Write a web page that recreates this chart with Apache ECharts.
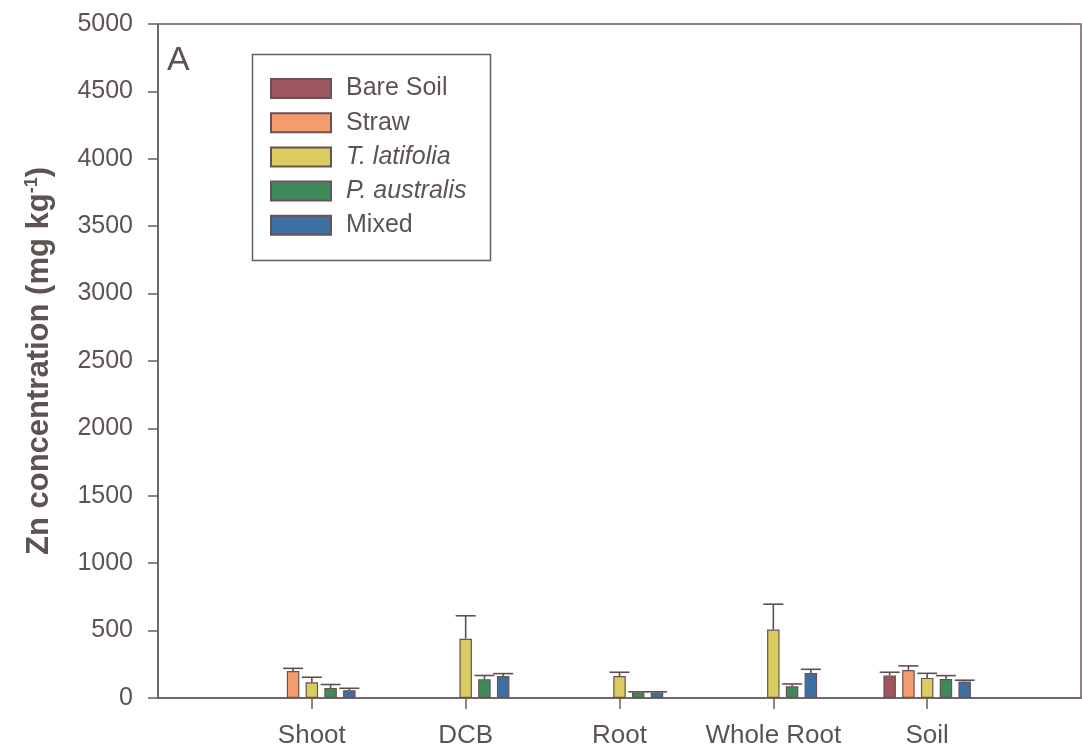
<!DOCTYPE html>
<html>
<head>
<meta charset="utf-8">
<script src="https://cdn.jsdelivr.net/npm/echarts@6/dist/echarts.min.js"></script>
<style>html,body{margin:0;padding:0;background:#fff;}#c{width:1082px;height:751px;}</style>
</head>
<body>
<div id="c"></div>
<script>
// ---- data ----
const categories = ['', 'Shoot', 'DCB', 'Root', 'Whole Root', 'Soil', ''];
const seriesNames = ['Bare Soil', 'Straw', 'T. latifolia', 'P. australis', 'Mixed'];
const bareSoil    = [null, null, null, null, null, 166, null];
const straw       = [null, 200, null, null, null, 208, null];
const tLatifolia  = [null, 117, 440, 163, 508, 149, null];
const pAustralis  = [null, 75, 140, 40, 87, 141, null];
const mixed       = [null, 57, 163, 40, 186, 122, null];
const bareSoilErr   = [null, null, null, null, null, 25, null];
const strawErr      = [null, 20, null, null, null, 30, null];
const tLatifoliaErr = [null, 37, 170, 28, 188, 34, null];
const pAustralisErr = [null, 25, 27, 6, 17, 25, null];
const mixedErr      = [null, 15, 18, 6, 27, 10, null];
const yTicks = [0, 500, 1000, 1500, 2000, 2500, 3000, 3500, 4000, 4500, 5000];

// ---- style ----
const colors = ['#9c5660', '#f49c6e', '#d9cc60', '#3f8a5d', '#3d6fa3'];
const italicNames = ['T. latifolia', 'P. australis'];
const barWidth = 12.5, barGapRatio = 0.5;
const step = barWidth * (1 + barGapRatio);
const axisColor = '#6a5c5c';
const textColor = '#5d5353';
const font = 'Liberation Sans, Arial, Helvetica, sans-serif';

const means = [bareSoil, straw, tLatifolia, pAustralis, mixed];
const errs = [bareSoilErr, strawErr, tLatifoliaErr, pAustralisErr, mixedErr];

const series = [];
means.forEach((m, i) => {
  series.push({
    name: seriesNames[i], type: 'bar', data: m,
    barWidth: barWidth, barGap: (barGapRatio * 100) + '%',
    itemStyle: { color: colors[i], borderColor: '#6b5252', borderWidth: 1.2 },
    z: 3
  });
});
means.forEach((m, i) => {
  const d = [];
  m.forEach((v, k) => { if (v != null && errs[i][k] != null) d.push([k, v, errs[i][k]]); });
  const offset = (i - 2) * step;
  series.push({
    type: 'custom', name: seriesNames[i] + ' err', data: d, z: 2,
    silent: true,
    renderItem: function (params, api) {
      const k = api.value(0), v = api.value(1), e = api.value(2);
      const p0 = api.coord([k, v]);
      const p1 = api.coord([k, v + e]);
      const x = p0[0] + offset;
      const cap = 10;
      const st = { stroke: '#5e5050', lineWidth: 1.6 };
      return { type: 'group', children: [
        { type: 'line', shape: { x1: x, y1: p0[1], x2: x, y2: p1[1] }, style: st },
        { type: 'line', shape: { x1: x - cap, y1: p1[1], x2: x + cap, y2: p1[1] }, style: st }
      ]};
    }
  });
});

const chart = echarts.init(document.getElementById('c'));
chart.setOption({
  animation: false,
  backgroundColor: '#fff',
  textStyle: { fontFamily: font },
  grid: { left: 158, right: 1, top: 24, bottom: 53, show: true, borderColor: axisColor, borderWidth: 1.5, backgroundColor: 'transparent' },
  legend: {
    data: seriesNames,
    orient: 'vertical', left: 270, top: 76, padding: 0,
    itemWidth: 60, itemHeight: 19, itemGap: 9.2,
    icon: 'rect',
    selectedMode: false,
    textStyle: { fontSize: 25, lineHeight: 25, color: textColor, fontFamily: font, padding: [0, 0, 0, 10],
      rich: { it: { fontStyle: 'italic', fontSize: 25, lineHeight: 25, color: textColor, fontFamily: font } } },
    formatter: function (n) { return italicNames.indexOf(n) >= 0 ? '{it|' + n + '}' : n; }
  },
  xAxis: {
    type: 'category', data: categories, boundaryGap: false,
    axisLine: { lineStyle: { color: axisColor, width: 1.5 } },
    axisTick: { show: true, length: 11, lineStyle: { color: axisColor, width: 1.5 },
      interval: function (idx) { return idx > 0 && idx < categories.length - 1; } },
    axisLabel: { fontSize: 26, color: textColor, margin: 25, fontFamily: font,
      interval: function (idx) { return idx > 0 && idx < categories.length - 1; } },
    splitLine: { show: false }
  },
  yAxis: {
    type: 'value', min: yTicks[0], max: yTicks[yTicks.length - 1], interval: yTicks[1] - yTicks[0],
    name: 'Zn concentration (mg kg{sup|-1})',
    nameLocation: 'middle', nameGap: 103, nameRotate: 90,
    nameTextStyle: { fontSize: 31, fontWeight: 'bold', color: textColor, fontFamily: font,
      rich: { sup: { fontSize: 18, fontWeight: 'bold', color: textColor, fontFamily: font, padding: [0, 0, 14, 0] } } },
    axisLine: { show: true, lineStyle: { color: axisColor, width: 1.5 } },
    axisTick: { show: true, length: 10, lineStyle: { color: axisColor, width: 1.5 } },
    axisLabel: { fontSize: 25, color: textColor, margin: 25, fontFamily: font,
      formatter: function (v) { return String(v); } },
    splitLine: { show: false }
  },
  graphic: [
    { type: 'rect', left: 250, top: 52, shape: { width: 238, height: 206 }, style: { fill: 'none', stroke: axisColor, lineWidth: 1.5 }, z: 1 },
    { type: 'text', left: 167, top: 44, style: { text: 'A', fontSize: 34, fill: textColor, fontFamily: font } }
  ],
  series: series
});
</script>
</body>
</html>
